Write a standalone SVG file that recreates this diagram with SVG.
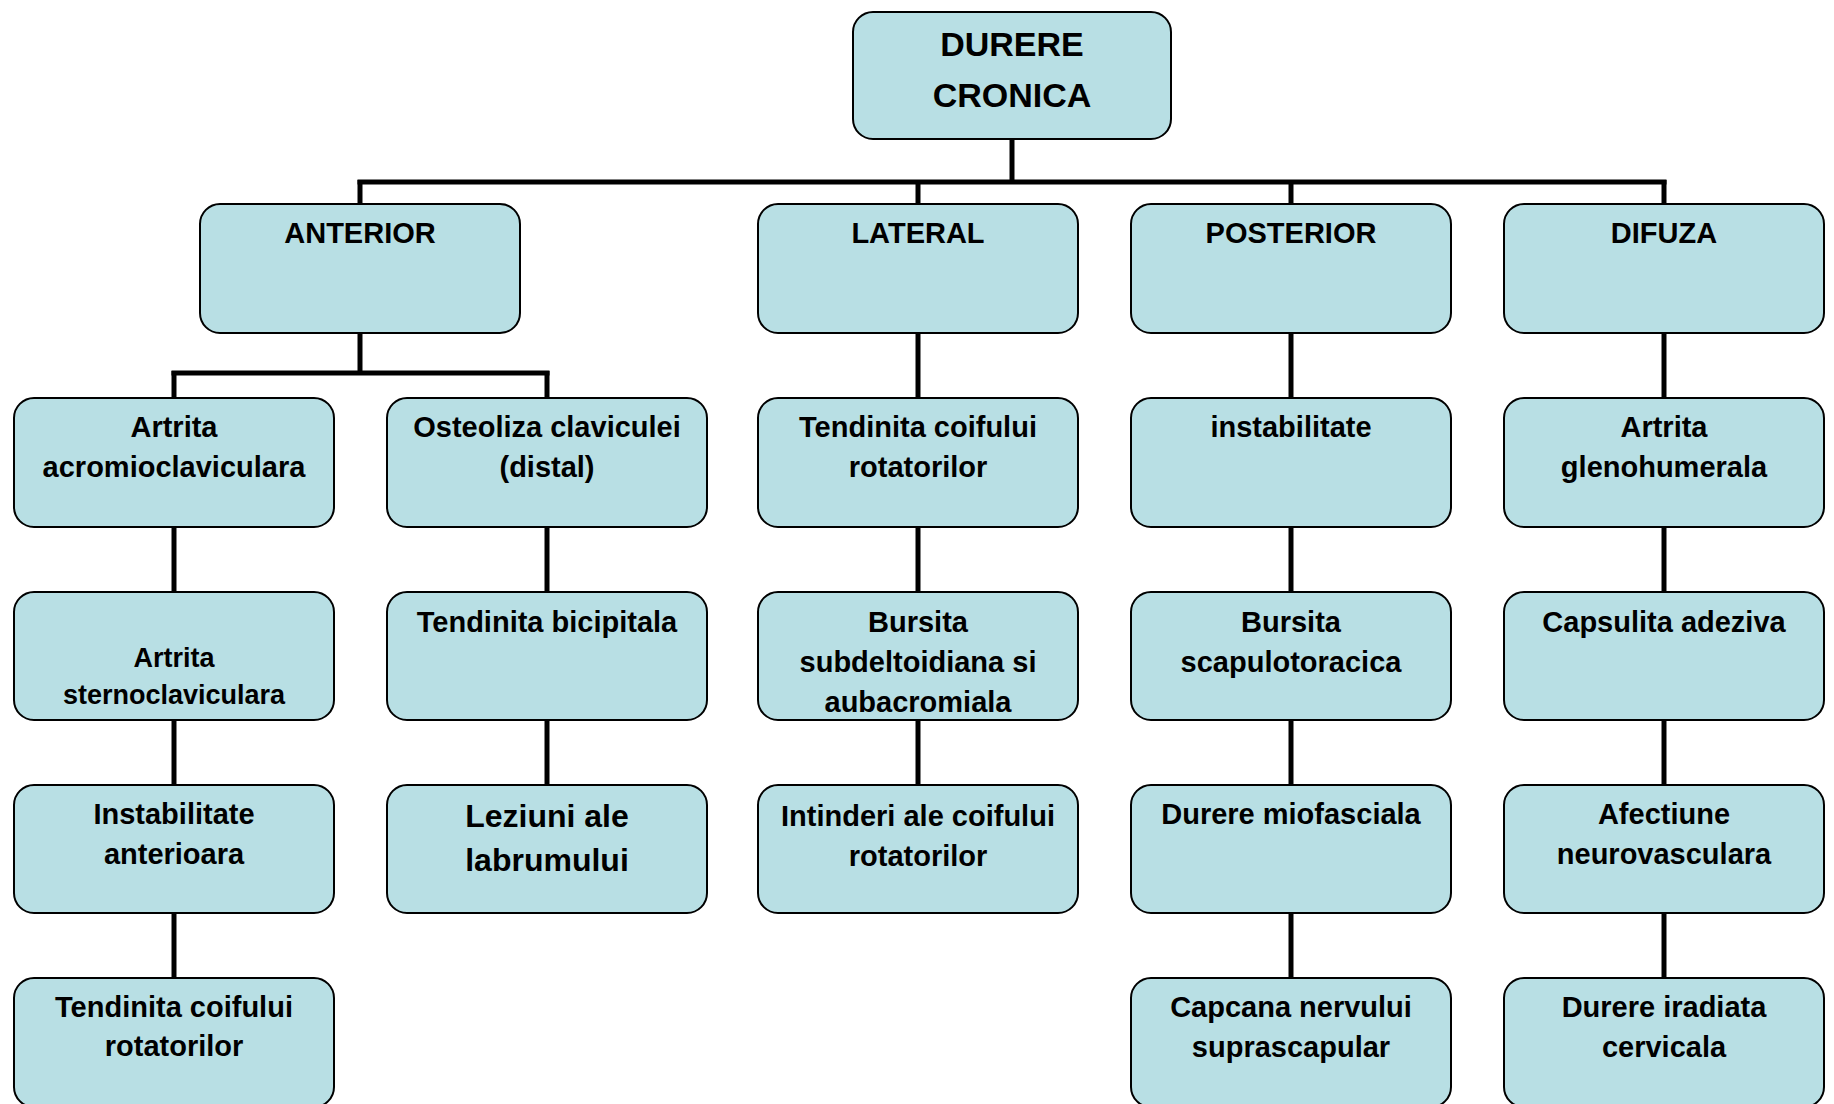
<svg xmlns="http://www.w3.org/2000/svg" width="1834" height="1104" viewBox="0 0 1834 1104">
  <style>
    .box { fill: #b8dfe4; stroke: #000; stroke-width: 2; }
    .lbl { font-family: "Liberation Sans", Arial, sans-serif; font-weight: bold; font-size: 29px; fill: #000; text-anchor: middle; }
    .big { font-size: 34px; }
    .lg { font-size: 32px; }
    .sm { font-size: 27px; }
    .wire { fill: none; stroke: #000; stroke-width: 5; stroke-linecap: butt; stroke-linejoin: miter; }
  </style>

  <!-- tree connectors -->
  <g id="connectors" class="wire">
    <path d="M1012 138 V182"/>
    <path d="M357.5 182 H1666.5"/>
    <path d="M360 180 V204"/>
    <path d="M918 180 V204"/>
    <path d="M1291 180 V204"/>
    <path d="M1664 180 V204"/>
    <path d="M360 333 V373"/>
    <path d="M171.5 373 H549.5"/>
    <path d="M174 371 V398"/>
    <path d="M547 371 V398"/>
    <path d="M174 527 V592"/>
    <path d="M174 720 V785"/>
    <path d="M174 913 V978"/>
    <path d="M547 527 V592"/>
    <path d="M547 720 V785"/>
    <path d="M918 333 V398"/>
    <path d="M918 527 V592"/>
    <path d="M918 720 V785"/>
    <path d="M1291 333 V398"/>
    <path d="M1291 527 V592"/>
    <path d="M1291 720 V785"/>
    <path d="M1291 913 V978"/>
    <path d="M1664 333 V398"/>
    <path d="M1664 527 V592"/>
    <path d="M1664 720 V785"/>
    <path d="M1664 913 V978"/>
  </g>

  <!-- root -->
  <g id="durere-cronica">
    <rect class="box" x="853" y="12" width="318" height="127" rx="20"/>
    <text class="lbl big" x="1012" y="56">DURERE</text>
    <text class="lbl big" x="1012" y="107">CRONICA</text>
  </g>

  <!-- categories -->
  <g id="anterior">
    <rect class="box" x="200" y="204" width="320" height="129" rx="20"/>
    <text class="lbl" x="360" y="243">ANTERIOR</text>
  </g>
  <g id="lateral">
    <rect class="box" x="758" y="204" width="320" height="129" rx="20"/>
    <text class="lbl" x="918" y="243">LATERAL</text>
  </g>
  <g id="posterior">
    <rect class="box" x="1131" y="204" width="320" height="129" rx="20"/>
    <text class="lbl" x="1291" y="243">POSTERIOR</text>
  </g>
  <g id="difuza">
    <rect class="box" x="1504" y="204" width="320" height="129" rx="20"/>
    <text class="lbl" x="1664" y="243">DIFUZA</text>
  </g>

  <!-- anterior, left branch -->
  <g id="artrita-acromioclaviculara">
    <rect class="box" x="14" y="398" width="320" height="129" rx="20"/>
    <text class="lbl" x="174" y="437">Artrita</text>
    <text class="lbl" x="174" y="477">acromioclaviculara</text>
  </g>
  <g id="artrita-sternoclaviculara">
    <rect class="box" x="14" y="592" width="320" height="128" rx="20"/>
    <text class="lbl sm" x="174" y="667">Artrita</text>
    <text class="lbl sm" x="174" y="704">sternoclaviculara</text>
  </g>
  <g id="instabilitate-anterioara">
    <rect class="box" x="14" y="785" width="320" height="128" rx="20"/>
    <text class="lbl" x="174" y="824">Instabilitate</text>
    <text class="lbl" x="174" y="864">anterioara</text>
  </g>
  <g id="tendinita-coif-anterior">
    <rect class="box" x="14" y="978" width="320" height="129" rx="20"/>
    <text class="lbl" x="174" y="1017">Tendinita coifului</text>
    <text class="lbl" x="174" y="1056">rotatorilor</text>
  </g>

  <!-- anterior, right branch -->
  <g id="osteoliza-claviculei">
    <rect class="box" x="387" y="398" width="320" height="129" rx="20"/>
    <text class="lbl" x="547" y="437">Osteoliza claviculei</text>
    <text class="lbl" x="547" y="477">(distal)</text>
  </g>
  <g id="tendinita-bicipitala">
    <rect class="box" x="387" y="592" width="320" height="128" rx="20"/>
    <text class="lbl" x="547" y="632">Tendinita bicipitala</text>
  </g>
  <g id="leziuni-labrum">
    <rect class="box" x="387" y="785" width="320" height="128" rx="20"/>
    <text class="lbl lg" x="547" y="827">Leziuni ale</text>
    <text class="lbl lg" x="547" y="871">labrumului</text>
  </g>

  <!-- lateral -->
  <g id="tendinita-coif-lateral">
    <rect class="box" x="758" y="398" width="320" height="129" rx="20"/>
    <text class="lbl" x="918" y="437">Tendinita coifului</text>
    <text class="lbl" x="918" y="477">rotatorilor</text>
  </g>
  <g id="bursita-subdeltoidiana">
    <rect class="box" x="758" y="592" width="320" height="128" rx="20"/>
    <text class="lbl" x="918" y="632">Bursita</text>
    <text class="lbl" x="918" y="672">subdeltoidiana si</text>
    <text class="lbl" x="918" y="712">aubacromiala</text>
  </g>
  <g id="intinderi-coif">
    <rect class="box" x="758" y="785" width="320" height="128" rx="20"/>
    <text class="lbl" x="918" y="826">Intinderi ale coifului</text>
    <text class="lbl" x="918" y="866">rotatorilor</text>
  </g>

  <!-- posterior -->
  <g id="instabilitate-posterior">
    <rect class="box" x="1131" y="398" width="320" height="129" rx="20"/>
    <text class="lbl" x="1291" y="437">instabilitate</text>
  </g>
  <g id="bursita-scapulotoracica">
    <rect class="box" x="1131" y="592" width="320" height="128" rx="20"/>
    <text class="lbl" x="1291" y="632">Bursita</text>
    <text class="lbl" x="1291" y="672">scapulotoracica</text>
  </g>
  <g id="durere-miofasciala">
    <rect class="box" x="1131" y="785" width="320" height="128" rx="20"/>
    <text class="lbl" x="1291" y="824">Durere miofasciala</text>
  </g>
  <g id="capcana-suprascapular">
    <rect class="box" x="1131" y="978" width="320" height="129" rx="20"/>
    <text class="lbl" x="1291" y="1017">Capcana nervului</text>
    <text class="lbl" x="1291" y="1057">suprascapular</text>
  </g>

  <!-- difuza -->
  <g id="artrita-glenohumerala">
    <rect class="box" x="1504" y="398" width="320" height="129" rx="20"/>
    <text class="lbl" x="1664" y="437">Artrita</text>
    <text class="lbl" x="1664" y="477">glenohumerala</text>
  </g>
  <g id="capsulita-adeziva">
    <rect class="box" x="1504" y="592" width="320" height="128" rx="20"/>
    <text class="lbl" x="1664" y="632">Capsulita adeziva</text>
  </g>
  <g id="afectiune-neurovasculara">
    <rect class="box" x="1504" y="785" width="320" height="128" rx="20"/>
    <text class="lbl" x="1664" y="824">Afectiune</text>
    <text class="lbl" x="1664" y="864">neurovasculara</text>
  </g>
  <g id="durere-iradiata">
    <rect class="box" x="1504" y="978" width="320" height="129" rx="20"/>
    <text class="lbl" x="1664" y="1017">Durere iradiata</text>
    <text class="lbl" x="1664" y="1057">cervicala</text>
  </g>
</svg>
